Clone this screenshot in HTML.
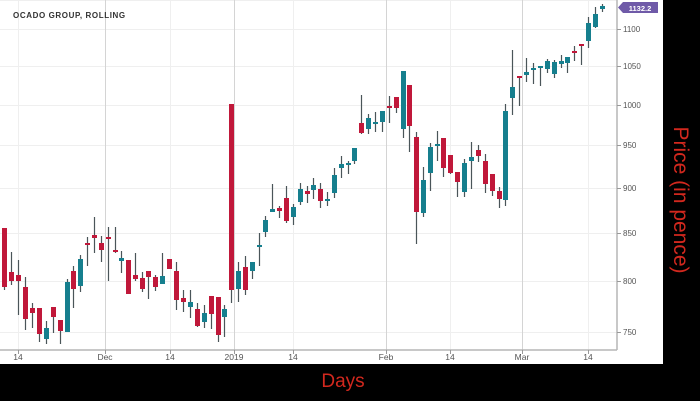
<!DOCTYPE html>
<html><head><meta charset="utf-8"><style>
html,body{margin:0;padding:0;background:#000;width:700px;height:401px;overflow:hidden}
svg{display:block}
</style></head><body>
<svg width="700" height="401" xmlns="http://www.w3.org/2000/svg" font-family="Liberation Sans, sans-serif">
<rect x="0" y="0" width="700" height="401" fill="#000"/>
<rect x="0" y="0" width="663" height="364" fill="#fff"/>
<g stroke="#efefef" stroke-width="1">
<line x1="0" y1="0.5" x2="617" y2="0.5"/>
<line x1="0" y1="29.5" x2="617" y2="29.5"/><line x1="0" y1="66.5" x2="617" y2="66.5"/>
<line x1="0" y1="105.5" x2="617" y2="105.5"/><line x1="0" y1="145.5" x2="617" y2="145.5"/>
<line x1="0" y1="188.5" x2="617" y2="188.5"/><line x1="0" y1="233.5" x2="617" y2="233.5"/>
<line x1="0" y1="281.5" x2="617" y2="281.5"/><line x1="0" y1="332.5" x2="617" y2="332.5"/>
<line x1="18.5" y1="0" x2="18.5" y2="350"/><line x1="170.5" y1="0" x2="170.5" y2="350"/>
<line x1="293.5" y1="0" x2="293.5" y2="350"/><line x1="450.5" y1="0" x2="450.5" y2="350"/>
<line x1="588.5" y1="0" x2="588.5" y2="350"/>
</g>
<g stroke="#d4d4d4" stroke-width="1">
<line x1="105.5" y1="0" x2="105.5" y2="350"/><line x1="234.5" y1="0" x2="234.5" y2="350"/>
<line x1="386.5" y1="0" x2="386.5" y2="350"/><line x1="522.5" y1="0" x2="522.5" y2="350"/>
</g>
<g stroke="#b5b5b5" stroke-width="1.5">
<line x1="0" y1="350" x2="617" y2="350"/><line x1="617" y1="0" x2="617" y2="350"/>
</g>
<g stroke="#999" stroke-width="1">
<line x1="617" y1="29.5" x2="621" y2="29.5"/><line x1="617" y1="66.5" x2="621" y2="66.5"/>
<line x1="617" y1="105.5" x2="621" y2="105.5"/><line x1="617" y1="145.5" x2="621" y2="145.5"/>
<line x1="617" y1="188.5" x2="621" y2="188.5"/><line x1="617" y1="233.5" x2="621" y2="233.5"/>
<line x1="617" y1="281.5" x2="621" y2="281.5"/><line x1="617" y1="332.5" x2="621" y2="332.5"/>
<line x1="18.5" y1="350" x2="18.5" y2="354"/><line x1="105.5" y1="350" x2="105.5" y2="354"/>
<line x1="170.5" y1="350" x2="170.5" y2="354"/><line x1="234.5" y1="350" x2="234.5" y2="354"/>
<line x1="293.5" y1="350" x2="293.5" y2="354"/><line x1="386.5" y1="350" x2="386.5" y2="354"/>
<line x1="450.5" y1="350" x2="450.5" y2="354"/><line x1="522.5" y1="350" x2="522.5" y2="354"/>
<line x1="588.5" y1="350" x2="588.5" y2="354"/>
</g>
<g font-size="8" fill="#555">
<text x="623" y="32">1100</text><text x="623" y="69">1050</text><text x="623" y="108">1000</text>
<text x="623" y="148">950</text><text x="623" y="191">900</text><text x="623" y="236">850</text>
<text x="623" y="284">800</text><text x="623" y="335">750</text>
</g>
<g font-size="8.5" fill="#555" text-anchor="middle">
<text x="18" y="360">14</text><text x="105" y="360">Dec</text><text x="170" y="360">14</text>
<text x="234" y="360">2019</text><text x="293" y="360">14</text><text x="386" y="360">Feb</text>
<text x="450" y="360">14</text><text x="522" y="360">Mar</text><text x="588" y="360">14</text>
</g>
<text x="13" y="18" font-size="8" font-weight="bold" fill="#333" letter-spacing="0.6">OCADO GROUP, ROLLING</text>
<path d="M618 7.5 L623 2 L658 2 L658 13 L623 13 Z" fill="#6f5aa8"/>
<text x="640" y="11" font-size="7.5" font-weight="bold" fill="#fff" text-anchor="middle">1132.2</text>
<g id="c"></g>
<text x="343" y="387" font-size="19" fill="#d2281e" text-anchor="middle">Days</text>
<text transform="translate(674,200) rotate(90)" font-size="21" fill="#d2281e" text-anchor="middle">Price (in pence)</text>
</svg>
<script>
var d=[[4,228,290,228,287,0],[11,252,285,272,281,0],[18,260,315,275,281,0],[25,277,330,287,319,0],[32,303,328,308,313,0],[39,308,342,308,334,0],[46,321,344,328,339,1],[53,307,333,307,317,0],[60,320,344,320,331,0],[67,279,332,282,332,1],[73,266,308,271,289,0],[80,255,292,259,286,1],[87,237,266,243,245,0],[94,217,253,235,238,0],[101,236,262,243,250,0],[108,227,281,237,239,0],[115,227,253,250,252,0],[121,251,273,258,261,1],[128,260,294,260,294,0],[135,253,281,275,279,0],[142,272,292,278,289,0],[148,271,299,271,277,0],[155,275,291,277,287,0],[162,253,284,276,284,1],[169,259,269,259,269,0],[176,262,310,271,300,0],[183,290,312,298,302,0],[190,290,318,302,307,1],[197,303,327,309,326,0],[204,305,328,313,322,1],[211,296,329,296,314,0],[218,297,342,297,335,0],[224,305,337,309,317,1],[231,104,303,104,290,0],[238,262,302,271,289,1],[245,256,295,267,290,0],[252,262,279,262,271,1],[259,233,266,245,246,1],[265,216,237,220,232,1],[272,184,212,209,212,1],[279,206,218,208,211,0],[286,186,223,198,221,0],[293,204,225,207,217,1],[300,183,205,189,202,1],[307,186,203,191,194,0],[313,178,199,185,190,1],[320,183,208,189,201,0],[327,192,206,199,200,1],[334,168,198,175,193,1],[341,156,178,164,168,1],[348,161,174,163,164,1],[354,148,164,148,161,1],[361,95,134,123,133,0],[368,114,134,118,129,1],[375,112,132,122,123,1],[382,111,132,111,122,1],[389,96,123,106,108,0],[396,97,113,97,108,0],[403,71,138,71,129,1],[409,85,152,85,126,0],[416,132,244,137,212,0],[423,167,217,180,213,1],[430,143,191,147,173,1],[437,131,161,144,146,1],[443,138,177,138,168,0],[450,155,174,155,173,0],[457,172,197,172,182,0],[464,159,197,163,192,1],[471,142,189,157,161,1],[478,145,162,150,156,0],[485,154,193,161,184,0],[492,174,196,174,191,0],[499,187,208,191,199,0],[505,104,206,111,200,1],[512,50,115,87,98,1],[519,76,106,76,78,0],[526,58,82,72,75,1],[533,63,84,68,70,1],[540,66,86,66,67,1],[547,59,73,61,69,1],[554,60,78,62,74,1],[561,55,68,61,64,1],[567,57,73,57,63,1],[574,46,61,51,53,0],[581,44,65,44,46,0],[588,17,48,23,41,1],[595,7,28,14,27,1],[602,4,12,6,9,1]];
var s='';d.forEach(function(c){var col=c[5]?'#167f8e':'#c0183a';s+='<line x1="'+(c[0]+.5)+'" y1="'+c[1]+'" x2="'+(c[0]+.5)+'" y2="'+c[2]+'" stroke="#4a5559" stroke-width="1.2"/>';var h=Math.max(2,c[4]-c[3]);s+='<rect x="'+(c[0]-2)+'" y="'+c[3]+'" width="5" height="'+h+'" fill="'+col+'"/>';});
document.getElementById('c').innerHTML=s;
</script>
</body></html>
